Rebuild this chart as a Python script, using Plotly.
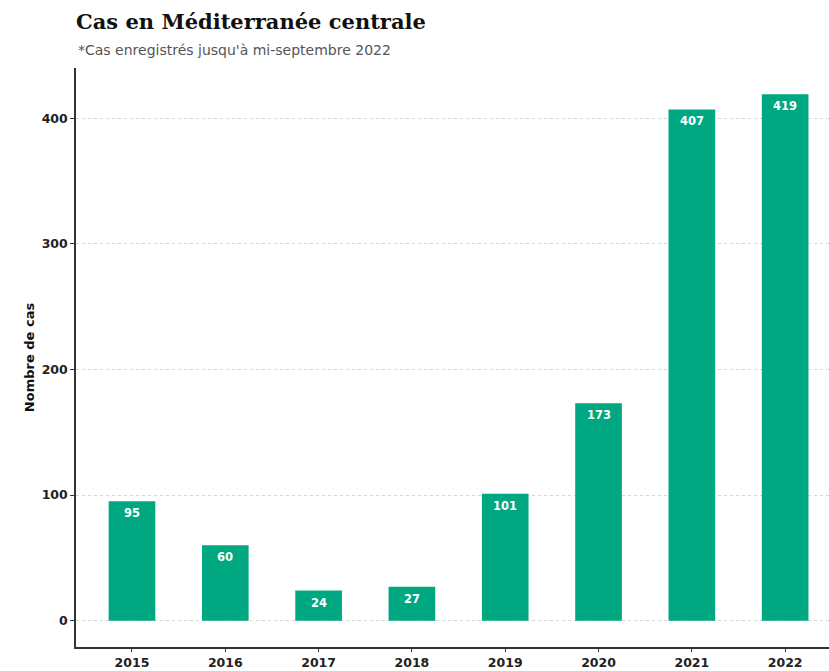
import plotly.graph_objects as go

# Cases recorded per year in the central Mediterranean
years = ["2015", "2016", "2017", "2018", "2019", "2020", "2021", "2022"]
cases = [95, 60, 24, 27, 101, 173, 407, 419]
y_ticks = [0, 100, 200, 300, 400]

bar_color = "#00A882"
axis_color = "#333333"
sans = "DejaVu Sans, Verdana, sans-serif"
serif = "DejaVu Serif, Georgia, serif"

positions = list(range(len(years)))

fig = go.Figure(
    go.Bar(
        x=positions,
        y=cases,
        width=0.5,
        marker=dict(color=bar_color, line=dict(width=0)),
        hoverinfo="skip",
    )
)

# value labels sitting just inside the top of each bar
value_labels = [
    dict(x=xi, y=v, xref="x", yref="y", text=f"<b>{v}</b>", showarrow=False,
         yanchor="top", yshift=-3,
         font=dict(family=sans, size=11.5, color="white"))
    for xi, v in zip(positions, cases)
]

titles = [
    dict(text="<b>Cas en Méditerranée centrale</b>", xref="paper", yref="paper",
         x=0.0, y=1.0, xanchor="left", yanchor="bottom", yshift=32, xshift=-2,
         showarrow=False,
         font=dict(family=serif, size=21, color="#111111")),
    dict(text="*Cas enregistrés jusqu'à mi-septembre 2022", xref="paper", yref="paper",
         x=0.0, y=1.0, xanchor="left", yanchor="bottom", yshift=8, xshift=0,
         showarrow=False,
         font=dict(family=sans, size=14, color="#555555")),
]

fig.update_layout(
    width=829,
    height=671,
    margin=dict(l=76, r=0, t=68, b=24),
    plot_bgcolor="white",
    paper_bgcolor="white",
    showlegend=False,
    font=dict(family=sans, color="#222222"),
    annotations=titles + value_labels,
)

fig.update_xaxes(
    range=[-0.6, 7.47],
    tickmode="array",
    tickvals=positions,
    ticktext=years,
    showline=True,
    linecolor=axis_color,
    linewidth=1.5,
    ticks="outside",
    ticklen=3,
    tickcolor=axis_color,
    showgrid=False,
    zeroline=False,
    automargin=False,
    tickfont=dict(family=sans, size=12.5, color="#222222", weight="bold"),
    fixedrange=True,
)

fig.update_yaxes(
    range=[-20.95, 439.95],
    tickmode="array",
    tickvals=y_ticks,
    showline=True,
    linecolor=axis_color,
    linewidth=1.5,
    ticks="outside",
    ticklen=4,
    tickcolor=axis_color,
    showgrid=True,
    gridcolor="#D6D6D6",
    griddash="dot",
    gridwidth=1,
    zeroline=False,
    automargin=False,
    tickfont=dict(family=sans, size=12.5, color="#222222", weight="bold"),
    title=dict(text="Nombre de cas", font=dict(family=sans, size=13, color="#111111", weight="bold"),
               standoff=4),
    fixedrange=True,
)

fig.write_html("out.html")
